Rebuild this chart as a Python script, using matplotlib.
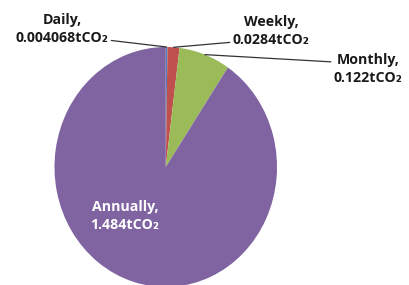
import numpy as np
import matplotlib
matplotlib.use("Agg")
import matplotlib.pyplot as plt

# values (tCO2)
categories = ["Daily", "Weekly", "Monthly", "Annually"]
values = [0.004068, 0.0284, 0.122, 1.484]
value_labels = ["0.004068", "0.0284", "0.122", "1.484"]
colors = ["#4F81BD", "#C0504D", "#9BBB59", "#8064A2"]

W, H = 409, 285
fig = plt.figure(figsize=(W / 100, H / 100), dpi=100)


def fpix(x, y):
    """image pixel (top-left origin) -> figure fraction"""
    return x / W, 1 - y / H


# pie box in image pixels (slightly taller than wide, as in the picture)
left, right, top, bottom = 54.5, 277, 47, 287
ax = fig.add_axes([left / W, 1 - bottom / H, (right - left) / W, (bottom - top) / H])
wedges, _ = ax.pie(values, colors=colors, startangle=90, counterclock=False,
                   radius=1, wedgeprops=dict(linewidth=0))
ax.set_xlim(-1, 1)
ax.set_ylim(-1, 1)
ax.set_aspect("auto")
ax.axis("off")

font = dict(family=["Open Sans", "DejaVu Sans"], fontweight="bold", fontsize=10.2)
labels = [f"{c},\n{v}tCO\u2082" for c, v in zip(categories, value_labels)]

# label positions (image pixels) and where the leader leaves the text box
label_pos = [(62, 29), (271, 31), (368, 69)]
rel = [(1.0, 0.15), (0.0, 0.15), (0.0, 0.72)]

for i in range(3):
    w = wedges[i]
    mid = np.deg2rad((w.theta1 + w.theta2) / 2)
    px, py = np.cos(mid), np.sin(mid)
    ax.annotate(labels[i], xy=(px, py), xycoords="data",
                xytext=fpix(*label_pos[i]), textcoords="figure fraction",
                ha="center", va="center", color="#1a1a1a", linespacing=1.35,
                arrowprops=dict(arrowstyle="-", color="#333333", lw=0.9,
                                shrinkA=0, shrinkB=0, relpos=rel[i]),
                annotation_clip=False, **font)

fig.text(*fpix(125, 216), labels[3], ha="center", va="center", color="white",
         linespacing=1.35, **font)

fig.savefig("out.png", dpi=100)
